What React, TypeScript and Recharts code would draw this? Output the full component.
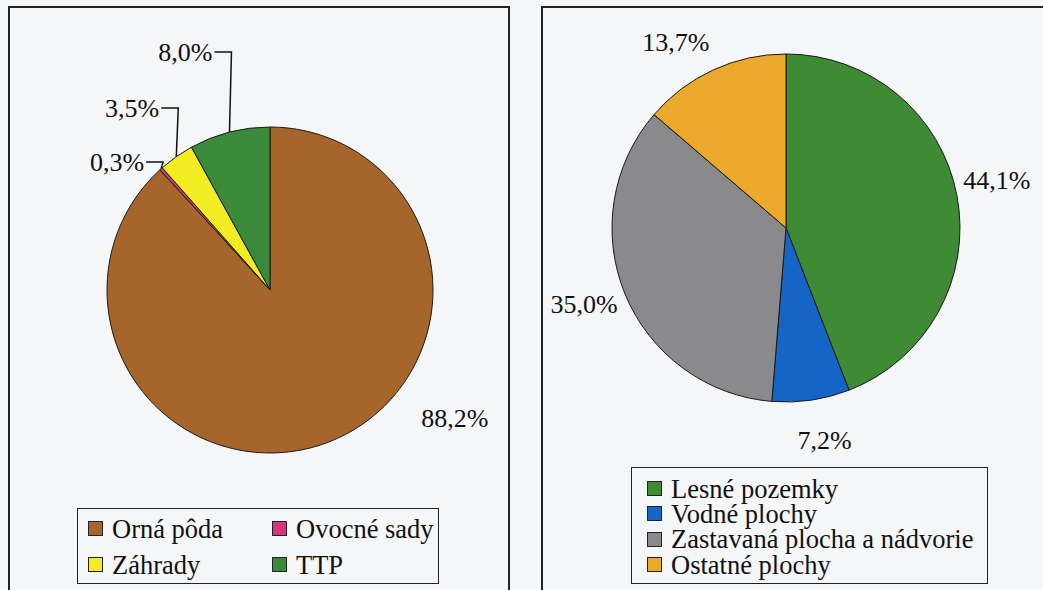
import { PieChart, Pie, Cell, Legend } from 'recharts'

// left chart: poľnohospodárska pôda
const AGRI_NAMES = ['Orná pôda', 'Ovocné sady', 'Záhrady', 'TTP']
const AGRI_SHARES = [88.2, 0.3, 3.5, 8.0]
const AGRI_COLORS = ['#a5652b', '#d6377c', '#f3ec22', '#3b8a3a']

// right chart: nepoľnohospodárska pôda
const OTHER_NAMES = ['Lesné pozemky', 'Vodné plochy', 'Zastavaná plocha a nádvorie', 'Ostatné plochy']
const OTHER_SHARES = [44.1, 7.2, 35.0, 13.7]
const OTHER_COLORS = ['#3e8a35', '#1565c6', '#8a8a8c', '#eca92b']

const agriData = AGRI_NAMES.map((name, i) => ({ name, value: AGRI_SHARES[i] }))
const otherData = OTHER_NAMES.map((name, i) => ({ name, value: OTHER_SHARES[i] }))

const FONT = "'Liberation Serif', 'Times New Roman', serif"
const RAD = Math.PI / 180
const fmt = (v: number) => v.toFixed(1).replace('.', ',') + '%'

// label placement (layout only)
const AGRI_LEVELS = [0, 128, 182, 238] // how high above centre the small-slice labels sit
const OTHER_NUDGE = [-2, -2, 1.5, -6] // degrees, clockwise

const polar = (cx: number, cy: number, r: number, deg: number) => ({
  x: cx + Math.cos(-deg * RAD) * r,
  y: cy + Math.sin(-deg * RAD) * r,
})

function agriLabel(p: any) {
  const { cx, cy, midAngle, outerRadius, value, index } = p
  if (index === 0) {
    const pt = polar(cx, cy, outerRadius + 62, midAngle + 34)
    return (
      <text x={pt.x} y={pt.y} textAnchor="middle" dominantBaseline="central"
        fontFamily={FONT} fontSize={26} fill="#111">{fmt(value)}</text>
    )
  }
  const edge = polar(cx, cy, outerRadius, midAngle)
  const ly = cy - AGRI_LEVELS[index]
  const ex = edge.x + 2
  const pts = `${edge.x},${edge.y} ${ex},${ly} ${ex - 17},${ly}`
  return (
    <g>
      <polyline points={pts} fill="none" stroke="#111" strokeWidth={1.5} />
      <text x={ex - 19} y={ly} textAnchor="end" dominantBaseline="central"
        fontFamily={FONT} fontSize={26} fill="#111">{fmt(value)}</text>
    </g>
  )
}

function otherLabel(p: any) {
  const { cx, cy, midAngle, outerRadius, value, index } = p
  const pt = polar(cx, cy, outerRadius + 42, midAngle - OTHER_NUDGE[index])
  return (
    <text x={pt.x} y={pt.y} textAnchor="middle" dominantBaseline="central"
      fontFamily={FONT} fontSize={26} fill="#111">{fmt(value)}</text>
  )
}

function LegendItem({ color, text, h }: { color: string; text: string; h: number }) {
  return (
    <div style={{ display: 'flex', alignItems: 'center', height: h, whiteSpace: 'nowrap' }}>
      <span style={{ width: 13, height: 13, background: color, border: '1.5px solid #222', marginRight: 9, flex: 'none' }} />
      <span style={{ fontFamily: FONT, fontSize: 26.5, lineHeight: '24px', color: '#111' }}>{text}</span>
    </div>
  )
}

// legend keeps the series order (Recharts would sort it by name)
function agriLegend() {
  return (
    <div style={{
      border: '1.5px solid #222', width: 350, height: 72, boxSizing: 'content-box',
      display: 'grid', gridTemplateColumns: '184px auto', paddingTop: 2, paddingLeft: 10,
    }}>
      {AGRI_NAMES.map((n, i) => (
        <LegendItem key={n} color={AGRI_COLORS[i]} text={n} h={35} />
      ))}
    </div>
  )
}

function otherLegend() {
  return (
    <div style={{
      border: '1.5px solid #222', width: 340, height: 107, paddingTop: 8, paddingLeft: 15,
      boxSizing: 'content-box',
    }}>
      {OTHER_NAMES.map((n, i) => (
        <LegendItem key={n} color={OTHER_COLORS[i]} text={n} h={25.3} />
      ))}
    </div>
  )
}

export default function App() {
  return (
    <div style={{ position: 'absolute', left: 0, top: 0, width: 1043, height: 590, overflow: 'hidden', background: '#f4f6f8' }}>
      <div style={{ position: 'absolute', left: 8, top: 6, width: 498, height: 620, border: '2px solid #222' }} />
      <div style={{ position: 'absolute', left: 541, top: 6, width: 600, height: 620, border: '2px solid #222' }} />

      <div style={{ position: 'absolute', left: 0, top: 0 }}>
        <PieChart width={520} height={590} margin={{ top: 0, right: 0, bottom: 0, left: 0 }}>
          <Pie data={agriData} dataKey="value" nameKey="name" cx={270} cy={290} outerRadius={163}
            startAngle={90} endAngle={-270} stroke="#1a1a1a" strokeWidth={1}
            label={agriLabel} labelLine={false} isAnimationActive={false}>
            {agriData.map((_, i) => <Cell key={i} fill={AGRI_COLORS[i]} />)}
          </Pie>
          <Legend content={agriLegend} wrapperStyle={{ left: 77, top: 508, width: 372 }} />
        </PieChart>
      </div>

      <div style={{ position: 'absolute', left: 520, top: 0 }}>
        <PieChart width={523} height={590} margin={{ top: 0, right: 0, bottom: 0, left: 0 }}>
          <Pie data={otherData} dataKey="value" nameKey="name" cx={266} cy={228} outerRadius={174}
            startAngle={90} endAngle={-270} stroke="#1a1a1a" strokeWidth={1}
            label={otherLabel} labelLine={false} isAnimationActive={false}>
            {otherData.map((_, i) => <Cell key={i} fill={OTHER_COLORS[i]} />)}
          </Pie>
          <Legend content={otherLegend} wrapperStyle={{ left: 111, top: 467, width: 360 }} />
        </PieChart>
      </div>
    </div>
  )
}
